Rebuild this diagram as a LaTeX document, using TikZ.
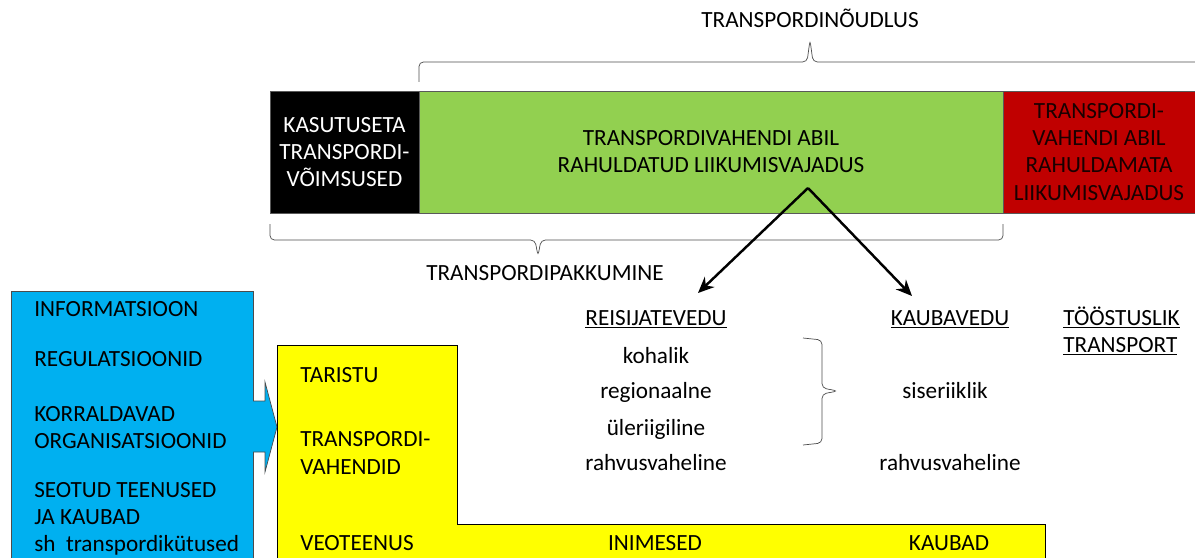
\documentclass[tikz,border=0pt]{standalone}
\usepackage{fontspec}
\setmainfont{Carlito}
\usepackage{xcolor}
\usetikzlibrary{arrows.meta}
\definecolor{infoblue}{HTML}{00B0F0}
\definecolor{usedgreen}{HTML}{92D050}
\definecolor{unmetred}{HTML}{C00000}
\definecolor{supplyyellow}{HTML}{FFFF00}

\begin{document}
\begin{tikzpicture}[
x=0.2mm, y=-0.2mm,
every node/.style={font=\fontsize{13.2}{15.4}\selectfont},
BarBox/.style={draw=gray!70!black, thin, minimum height=24.4mm, align=center, inner sep=0pt},
BraceLine/.style={draw=gray!60!black, thin, rounded corners=2.5pt},
SplitArrow/.style={draw=black, line width=1.4pt, -{Stealth[length=3.2mm, width=2.8mm]}},
LeftText/.style={anchor=west, inner sep=0pt, align=left},
MidText/.style={anchor=base, inner sep=0pt}
]
\useasboundingbox (0,0) rectangle (1195,558);

% top bar: unused capacity / met demand / unmet demand
\node[BarBox, fill=black, text=white, minimum width=29.8mm] (unused) at (344.5,152)
  {KASUTUSETA\\TRANSPORDI-\\VÕIMSUSED};
\node[BarBox, fill=usedgreen, minimum width=116.8mm] (met) at (711,152)
  {TRANSPORDIVAHENDI ABIL\\RAHULDATUD LIIKUMISVAJADUS};
\node[BarBox, fill=unmetred, text=black!90!red, minimum width=38.4mm] (unmet) at (1099,152)
  {TRANSPORDI-\\VAHENDI ABIL\\RAHULDAMATA\\LIIKUMISVAJADUS};

% braces
\draw[BraceLine] (419,82) -- (419,62) -- (807,62) -- (810,40) -- (813,62) -- (1195,62);
\node[MidText] (demand) at (810,28) {TRANSPORDINÕUDLUS};

\draw[BraceLine] (270,224) -- (270,240) -- (535,240) -- (538,256) -- (541,240) -- (1003,240) -- (1003,224);
\node[MidText] (supply) at (545,280) {TRANSPORDIPAKKUMINE};

% left side
\node[draw=gray!60!black, thin, fill=infoblue, minimum width=48.4mm, minimum height=53.8mm,
  inner sep=0pt] (infobox) at (132,425.5) {};
\draw[draw=gray!60!black, thin, fill=infoblue] (253,401) -- (265,401) -- (265,382) -- (277,427)
  -- (265,472) -- (265,452) -- (253,452);

\node[LeftText] (info) at (34,309) {INFORMATSIOON};
\node[LeftText] (regul) at (34,359) {REGULATSIOONID};
\node[LeftText] (orgs) at (34,428) {KORRALDAVAD\\ORGANISATSIOONID};
\node[LeftText] (related) at (34,519) {SEOTUD TEENUSED\\JA KAUBAD\\sh\ \ transpordikütused};

\draw[draw=black, thin, fill=supplyyellow] (277,345) -- (457,345) -- (457,524) -- (1045,524)
  -- (1045,560) -- (277,560) -- cycle;

\node[LeftText] (infra) at (300,375) {TARISTU};
\node[LeftText] (vehicles) at (300,453) {TRANSPORDI-\\VAHENDID};
\node[LeftText] (service) at (300,543) {VEOTEENUS};
\node[MidText] (people) at (655,550) {INIMESED};
\node[MidText] (goods) at (949,550) {KAUBAD};

% passenger and freight transport
\node[MidText] (pass) at (656,325) {\underline{REISIJATEVEDU}};
\node[MidText] (local) at (656,363) {kohalik};
\node[MidText] (region) at (656,398) {regionaalne};
\node[MidText] (national) at (656,435) {üleriigiline};
\node[MidText] (intlpass) at (656,470) {rahvusvaheline};

\node[MidText] (freight) at (950,325) {\underline{KAUBAVEDU}};
\node[MidText] (domestic) at (945,398) {siseriiklik};
\node[MidText] (intlfreight) at (950,470) {rahvusvaheline};

\node[anchor=base west, inner sep=0pt] (industrial) at (1063,325) {\underline{TÖÖSTUSLIK}};
\node[anchor=base west, inner sep=0pt] (industrial2) at (1063,352) {\underline{TRANSPORT}};

\draw[BraceLine] (803,338) -- (822,340) -- (822,388) -- (838,391) -- (822,394) -- (822,443) -- (803,445);

% split arrows
\coordinate (fork) at (808,188);
\coordinate (passTip) at (698,293);
\coordinate (freightTip) at (912,296);
\draw[SplitArrow] (fork) -- (passTip);
\draw[SplitArrow] (fork) -- (freightTip);

\end{tikzpicture}
\end{document}
